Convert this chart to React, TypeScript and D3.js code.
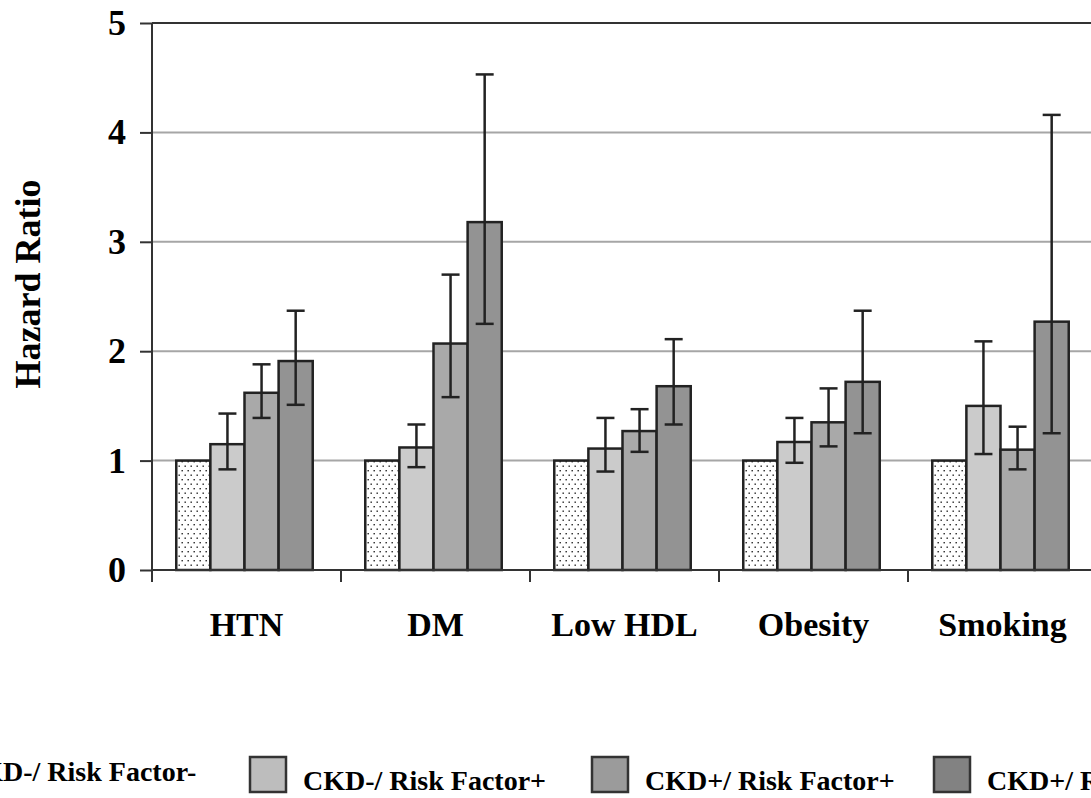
import React, { useEffect, useRef } from 'react';
import * as d3 from 'd3';

// categories and series
const categories = ['HTN', 'DM', 'Low HDL', 'Obesity', 'Smoking'];
const seriesNames = ['CKD-/ Risk Factor-', 'CKD-/ Risk Factor+', 'CKD+/ Risk Factor+', 'CKD+/ Risk Factor-'];

// hazard ratios
const refGroup = [1, 1, 1, 1, 1];
const ckdNegRfPos = [1.15, 1.12, 1.11, 1.17, 1.5];
const ckdPosRfPos = [1.62, 2.07, 1.27, 1.35, 1.1];
const ckdPosRfNeg = [1.91, 3.18, 1.68, 1.72, 2.27];

// 95% CI
const ckdNegRfPosLow = [0.92, 0.94, 0.9, 0.98, 1.06];
const ckdNegRfPosHigh = [1.43, 1.33, 1.39, 1.39, 2.09];
const ckdPosRfPosLow = [1.39, 1.58, 1.08, 1.13, 0.92];
const ckdPosRfPosHigh = [1.88, 2.7, 1.47, 1.66, 1.31];
const ckdPosRfNegLow = [1.51, 2.25, 1.33, 1.25, 1.25];
const ckdPosRfNegHigh = [2.37, 4.53, 2.11, 2.37, 4.16];

const yTicks = [0, 1, 2, 3, 4, 5];

const W = 1091;
const H = 798;
const FONT = '"Liberation Serif", "Times New Roman", serif';

const barFills = ['url(#dots)', '#cbcbcb', '#a9a9a9', '#939393'];
const legendFills = ['url(#dots)', '#bdbdbd', '#9b9b9b', '#828282'];

export default function App() {
  const ref = useRef<SVGSVGElement>(null);

  useEffect(() => {
    const svg = d3.select(ref.current);
    svg.selectAll('*').remove();

    const left = 152;
    const band = 189;
    const top = 23;
    const bottom = 570;

    const values = [refGroup, ckdNegRfPos, ckdPosRfPos, ckdPosRfNeg];
    const lows = [null, ckdNegRfPosLow, ckdPosRfPosLow, ckdPosRfNegLow];
    const highs = [null, ckdNegRfPosHigh, ckdPosRfPosHigh, ckdPosRfNegHigh];

    // dotted fill for the reference group
    const defs = svg.append('defs');
    const pat = defs.append('pattern')
      .attr('id', 'dots')
      .attr('patternUnits', 'userSpaceOnUse')
      .attr('width', 6)
      .attr('height', 9);
    pat.append('rect').attr('width', 6).attr('height', 9).attr('fill', '#fff');
    pat.append('rect').attr('x', 1.5).attr('y', 2).attr('width', 1.4).attr('height', 1.4).attr('fill', '#222');
    pat.append('rect').attr('x', 4.5).attr('y', 6.5).attr('width', 1.4).attr('height', 1.4).attr('fill', '#222');

    // scales
    const x = d3.scaleBand<string>()
      .domain(categories)
      .range([left, left + band * categories.length])
      .paddingInner(0)
      .paddingOuter(0);
    const xs = d3.scaleBand<string>()
      .domain(seriesNames)
      .range([-2, x.bandwidth() - 2])
      .paddingInner(0)
      .paddingOuter(0.77);
    const y = d3.scaleLinear().domain([0, 5]).range([bottom, top]);

    // gridlines
    svg.append('g')
      .selectAll('line')
      .data(yTicks.filter(t => t > 0 && t < 5))
      .enter()
      .append('line')
      .attr('x1', left)
      .attr('x2', W + 10)
      .attr('y1', d => y(d))
      .attr('y2', d => y(d))
      .attr('stroke', '#a6a6a6')
      .attr('stroke-width', 2);

    // plot border top
    svg.append('line')
      .attr('x1', left).attr('x2', W + 10)
      .attr('y1', y(5)).attr('y2', y(5))
      .attr('stroke', '#333').attr('stroke-width', 2);

    // bars
    values.forEach((vals, s) => {
      svg.append('g')
        .selectAll('rect')
        .data(vals)
        .enter()
        .append('rect')
        .attr('x', (d, i) => (x(categories[i]) as number) + (xs(seriesNames[s]) as number))
        .attr('y', d => y(d))
        .attr('width', xs.bandwidth())
        .attr('height', d => y(0) - y(d))
        .attr('fill', barFills[s])
        .attr('stroke', '#222')
        .attr('stroke-width', 2.5);
    });

    // error bars
    values.forEach((vals, s) => {
      const lo = lows[s];
      const hi = highs[s];
      if (!lo || !hi) return;
      const g = svg.append('g').attr('stroke', '#222').attr('stroke-width', 2.5);
      categories.forEach((c, i) => {
        const cx = (x(c) as number) + (xs(seriesNames[s]) as number) + xs.bandwidth() / 2;
        g.append('line').attr('x1', cx).attr('x2', cx).attr('y1', y(lo[i])).attr('y2', y(hi[i]));
        g.append('line').attr('x1', cx - 9).attr('x2', cx + 9).attr('y1', y(lo[i])).attr('y2', y(lo[i]));
        g.append('line').attr('x1', cx - 9).attr('x2', cx + 9).attr('y1', y(hi[i])).attr('y2', y(hi[i]));
      });
    });

    // y axis
    const yAxis = svg.append('g')
      .attr('transform', `translate(${left},0)`)
      .call(d3.axisLeft(y).tickValues(yTicks).tickSize(12).tickPadding(14).tickFormat(d3.format('d')));
    yAxis.select('.domain').attr('stroke', '#333').attr('stroke-width', 2).attr('d', `M0,${top}V${bottom}`);
    yAxis.selectAll('.tick line').attr('stroke', '#333').attr('stroke-width', 2);
    yAxis.selectAll('.tick text')
      .attr('font-family', FONT)
      .attr('font-size', 36)
      .attr('font-weight', 'bold')
      .attr('fill', '#000');

    // x axis
    const xAxis = svg.append('g')
      .attr('transform', `translate(0,${bottom})`)
      .call(d3.axisBottom(x).tickSize(0).tickPadding(42));
    xAxis.select('.domain').attr('stroke', '#333').attr('stroke-width', 2).attr('d', `M${left},0H${W + 10}`);
    xAxis.selectAll('.tick text')
      .attr('font-family', FONT)
      .attr('font-size', 34)
      .attr('font-weight', 'bold')
      .attr('fill', '#000');
    xAxis.selectAll('.sep')
      .data(d3.range(categories.length + 1))
      .enter()
      .append('line')
      .attr('class', 'sep')
      .attr('x1', i => left + band * i)
      .attr('x2', i => left + band * i)
      .attr('y1', 0)
      .attr('y2', 12)
      .attr('stroke', '#333')
      .attr('stroke-width', 2);

    // y title
    svg.append('text')
      .attr('transform', 'translate(40,284) rotate(-90)')
      .attr('text-anchor', 'middle')
      .attr('font-family', FONT)
      .attr('font-size', 36)
      .attr('font-weight', 'bold')
      .text('Hazard Ratio');

    // legend
    const legendStep = 342;
    const legendX0 = 250 - legendStep;
    const lg = svg.append('g');
    seriesNames.forEach((name, i) => {
      const lx = legendX0 + i * legendStep;
      lg.append('rect')
        .attr('x', lx).attr('y', 757)
        .attr('width', 36).attr('height', 35)
        .attr('fill', legendFills[i])
        .attr('stroke', '#333')
        .attr('stroke-width', 2.5);
      lg.append('text')
        .attr('x', lx + 53)
        .attr('y', i === 0 ? 781 : 790)
        .attr('font-family', FONT)
        .attr('font-size', 28)
        .attr('font-weight', 'bold')
        .text(name);
    });
  }, []);

  return (
    <svg
      ref={ref}
      width={W}
      height={H}
      style={{ position: 'absolute', left: 0, top: 0, background: '#fff' }}
    />
  );
}
